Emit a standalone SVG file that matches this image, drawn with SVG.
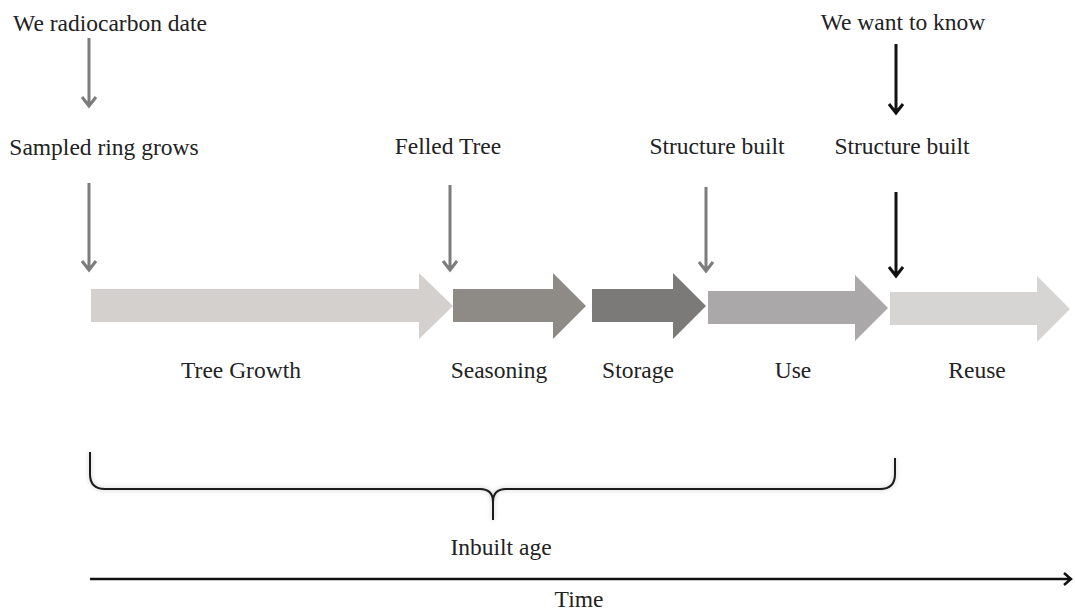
<svg xmlns="http://www.w3.org/2000/svg" width="1075" height="616" viewBox="0 0 1075 616">
<defs>
<style>
text{font-family:"Liberation Serif","Times New Roman",serif;font-size:23.5px;fill:#222;text-anchor:middle}
.g{stroke:#7c7c7c;stroke-width:3;fill:none}
.k{stroke:#111;stroke-width:3;fill:none}
.br{stroke:#1a1a1a;stroke-width:2;fill:none}
</style>
<filter id="sh" x="-5%" y="-50%" width="110%" height="200%">
<feGaussianBlur in="SourceAlpha" stdDeviation="2.5"/>
<feComponentTransfer><feFuncA type="linear" slope="0.25"/></feComponentTransfer>
<feMerge><feMergeNode/><feMergeNode in="SourceGraphic"/></feMerge>
</filter>
</defs>
<rect width="1075" height="616" fill="#fff"/>
<g id="labels-top">
<text x="110" y="31">We radiocarbon date</text>
<text x="104" y="155">Sampled ring grows</text>
<text x="448" y="154">Felled Tree</text>
<text x="717" y="154">Structure built</text>
<text x="902" y="154">Structure built</text>
<text x="903" y="30">We want to know</text>
</g>
<g id="connectors">
<path class="g" d="M89,38 V106 M82,97 L89,106 L96,97"/>
<path class="g" d="M89,183 V270 M82,261 L89,270 L96,261"/>
<path class="g" d="M450,185 V270 M443,261 L450,270 L457,261"/>
<path class="g" d="M706,187 V271 M699,262 L706,271 L713,262"/>
<path class="k" d="M896,44 V113 M889,104 L896,113 L903,104"/>
<path class="k" d="M896,192 V276 M889,267 L896,276 L903,267"/>
</g>
<g id="tree-growth">
<polygon points="91,289 419,289 419,273 453,306 419,339 419,322 91,322" fill="#d3d0ce"/>
<text x="241" y="378">Tree Growth</text>
</g>
<g id="seasoning">
<polygon points="453,289 553,289 553,273 586,306 553,339 553,322 453,322" fill="#8e8a85"/>
<text x="499" y="378">Seasoning</text>
</g>
<g id="storage">
<polygon points="592,289 673,289 673,273 706,306 673,339 673,322 592,322" fill="#7b7a79"/>
<text x="638" y="378">Storage</text>
</g>
<g id="use">
<polygon points="708,291 855,291 855,275 888,308 855,341 855,324 708,324" fill="#aaa8a8"/>
<text x="793" y="378">Use</text>
</g>
<g id="reuse">
<polygon points="890,292 1037,292 1037,276 1070,309 1037,342 1037,325 890,325" fill="#d7d5d4"/>
<text x="977" y="378">Reuse</text>
</g>
<g id="inbuilt-age">
<path class="br" filter="url(#sh)" d="M90,452 V474 Q90,489 105,489 H480 Q493,489 493,502 V520 M493,502 Q493,489 506,489 H880 Q895,489 895,474 V458"/>
<text x="501" y="555">Inbuilt age</text>
</g>
<g id="time">
<path d="M90,579 H1071 M1064,573 L1071,579 L1064,585" stroke="#111" stroke-width="2.5" fill="none"/>
<text x="579" y="607">Time</text>
</g>
</svg>
